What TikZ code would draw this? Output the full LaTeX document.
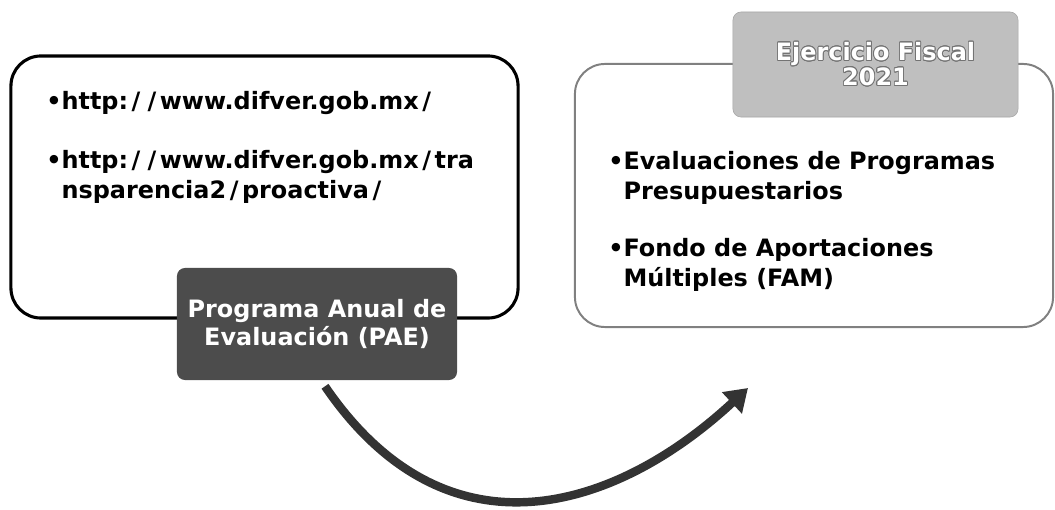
\documentclass[tikz,border=0pt]{standalone}
\usepackage{fontspec}
\setmainfont{DejaVu Sans}
\usepackage{tikz}
\usetikzlibrary{positioning}
\usetikzlibrary{calc}
\usetikzlibrary{arrows.meta}
\usepackage[copies]{contour}
\contourlength{0.6pt}
\newcommand{\wsl}{\kern0.15em/\kern0.15em}

\begin{document}
\begin{tikzpicture}[x=0.025cm, y=-0.025cm,
    panel/.style={draw, rounded corners=0.75cm, fill=white},
    tag/.style={rounded corners=0.2cm, text=white, align=center, inner sep=0pt},
    entry/.style={anchor=west, align=left, inner sep=0pt,
    font=\bfseries\fontsize{17}{21.3}\selectfont},
    ]
    \useasboundingbox (0,0) rectangle (1055,510);

    \node[panel, line width=2.2pt, minimum width=12.675cm, minimum height=6.55cm] (links) at (264.5,187) {};
    \node[entry] (urla) at (46,103) {•http:\wsl\wsl www.difver.gob.mx\wsl};
    \node[entry] (urlb) at (46,177) {•http:\wsl\wsl www.difver.gob.mx\wsl tra\\\hphantom{•}nsparencia2\wsl proactiva\wsl};
    \node[tag, fill=black!70, minimum width=7cm, minimum height=2.8cm,
    font=\bfseries\fontsize{17}{19.5}\selectfont] (pae) at (317,324) {Programa Anual de\\Evaluación (PAE)};

    \node[panel, draw=black!50, line width=1.4pt, minimum width=11.95cm, minimum height=6.575cm] (pres) at (814,195.5) {};
    \node[tag, fill=black!25, draw=black!35, minimum width=7.125cm, minimum height=2.625cm,
    font=\bfseries\fontsize{17}{17.7}\selectfont] (fiscal) at (875.5,64.5)
    {\contour{black!55}{Ejercicio Fiscal}\\\contour{black!55}{2021}};
    \node[entry] (eval) at (608,178) {•Evaluaciones de Programas\\\hphantom{•}Presupuestarios};
    \node[entry] (fam) at (608,265) {•Fondo de Aportaciones\\\hphantom{•}Múltiples (FAM)};

    \coordinate (tip) at (748,388);
    \draw[line width=6pt, black!80, -{Triangle[length=0.55cm, width=0.7cm]}]
    ($(pae.south)+(8,6)$) .. controls (449,568) and (620,507) .. (tip);
\end{tikzpicture}
\end{document}
